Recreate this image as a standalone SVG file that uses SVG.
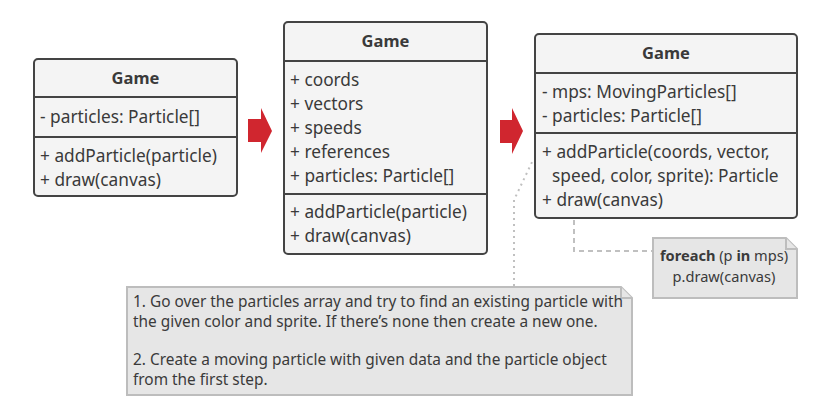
<svg xmlns="http://www.w3.org/2000/svg" width="819" height="403" viewBox="0 0 819 403">
<style>
.box{fill:#f4f4f4;stroke:#444;stroke-width:2}
.sep{stroke:#444;stroke-width:2}
.t{font-family:"Noto Sans","Open Sans",sans-serif;font-size:17.3px;fill:#3a3a3a}
.h{font-weight:bold;text-anchor:middle;font-size:16.5px}
.note{fill:#e6e6e6;stroke:#bdbdbd;stroke-width:2}
.n{font-family:"Noto Sans","Open Sans",sans-serif;font-size:15.4px;fill:#3a3a3a}
.n2{font-family:"Noto Sans","Open Sans",sans-serif;font-size:14.6px;fill:#3a3a3a}
.arrow{fill:#d0262f}
.dot{fill:none;stroke:#c0c0c0;stroke-width:2;stroke-dasharray:2 4}
.dash{fill:none;stroke:#c0c0c0;stroke-width:2;stroke-dasharray:5 4}
</style>
<rect width="819" height="403" fill="#fff"/>
<g id="connectors">
<path class="arrow" d="M248 119H261V108L272 131L261 153V142H248Z"/>
<path class="arrow" d="M500 120H512V108L523 131L512 154V143H500Z"/>
<path class="dot" d="M514 286V200L533 160"/>
<path class="dash" d="M574 220V251H652"/>
</g>
<g id="game1">
<rect class="box" x="34" y="59" width="203" height="137" rx="4"/>
<line class="sep" x1="34" y1="97" x2="237" y2="97"/>
<line class="sep" x1="34" y1="137" x2="237" y2="137"/>
<text class="t h" x="135.5" y="84">Game</text>
<text class="t" x="40" y="123">- particles: Particle[]</text>
<text class="t" x="40" y="162">+ addParticle(particle)</text>
<text class="t" x="40" y="186">+ draw(canvas)</text>
</g>
<g id="game2">
<rect class="box" x="284" y="22" width="203" height="232" rx="4"/>
<line class="sep" x1="284" y1="61" x2="487" y2="61"/>
<line class="sep" x1="284" y1="194" x2="487" y2="194"/>
<text class="t h" x="385.5" y="47">Game</text>
<text class="t" x="290" y="86">+ coords</text>
<text class="t" x="290" y="110">+ vectors</text>
<text class="t" x="290" y="134">+ speeds</text>
<text class="t" x="290" y="158">+ references</text>
<text class="t" x="290" y="182">+ particles: Particle[]</text>
<text class="t" x="290" y="218">+ addParticle(particle)</text>
<text class="t" x="290" y="242">+ draw(canvas)</text>
</g>
<g id="game3">
<rect class="box" x="535" y="34" width="262" height="184" rx="4"/>
<line class="sep" x1="535" y1="73" x2="797" y2="73"/>
<line class="sep" x1="535" y1="133" x2="797" y2="133"/>
<text class="t h" x="666" y="59">Game</text>
<text class="t" x="542" y="98">- mps: MovingParticles[]</text>
<text class="t" x="542" y="122">- particles: Particle[]</text>
<text class="t" x="542" y="158">+ addParticle(coords, vector,</text>
<text class="t" x="552" y="182">speed, color, sprite): Particle</text>
<text class="t" x="542" y="206">+ draw(canvas)</text>
</g>
<g id="note1">
<path class="note" d="M127 287H621L632 298V395H127Z"/>
<path class="note" d="M621 287V298H632"/>
<text class="n" x="133" y="307">1. Go over the particles array and try to find an existing particle with</text>
<text class="n" x="133" y="327">the given color and sprite. If there’s none then create a new one.</text>
<text class="n" x="133" y="365">2. Create a moving particle with given data and the particle object</text>
<text class="n" x="133" y="385">from the first step.</text>
</g>
<g id="note2">
<path class="note" d="M653 238H786L797 249V298H653Z"/>
<path class="note" d="M786 238V249H797"/>
<text class="n2" x="724" y="261" text-anchor="middle"><tspan font-weight="bold">foreach</tspan> (p <tspan font-weight="bold">in</tspan> mps)</text>
<text class="n2" x="724" y="282" text-anchor="middle">p.draw(canvas)</text>
</g>
</svg>
